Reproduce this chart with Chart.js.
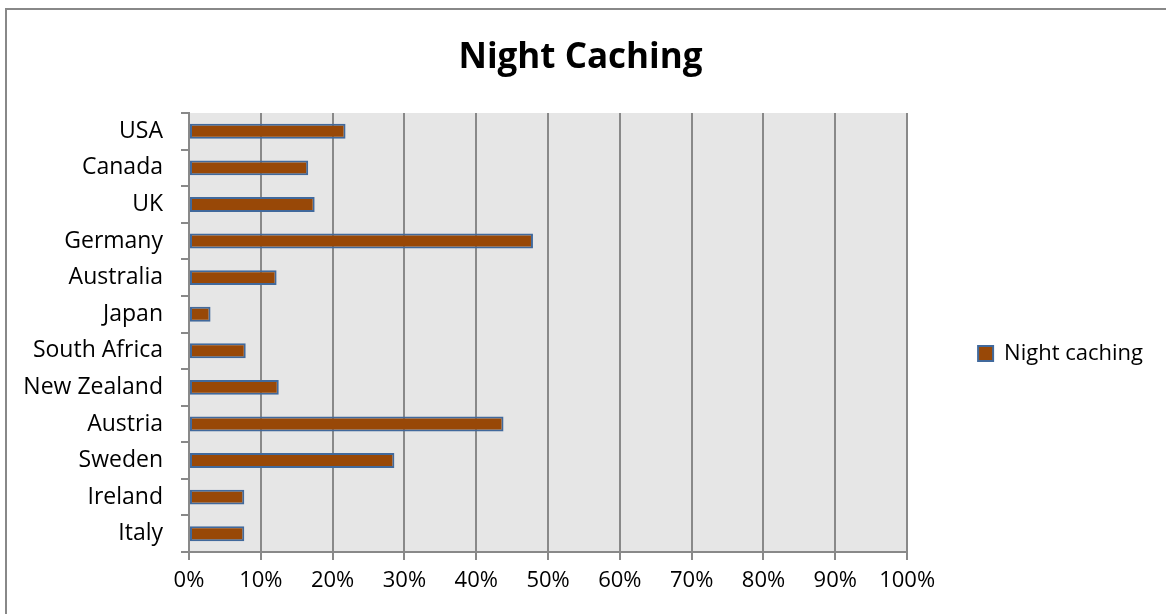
<!DOCTYPE html>
<html>
<head>
<meta charset="utf-8">
<script src="https://cdn.jsdelivr.net/npm/chart.js@4.4.1/dist/chart.umd.min.js"></script>
<style>
  html, body { margin: 0; padding: 0; background: #fff; overflow: hidden; }
  #frame {
    position: absolute; left: 5px; top: 8px; width: 1170px; height: 620px;
    border-left: 2px solid #888; border-top: 2px solid #888;
  }
  #wrap { position: absolute; left: 8px; top: 11px; width: 1145px; height: 603px; }
</style>
</head>
<body>
<div id="frame"></div>
<div id="wrap"><canvas id="chart"></canvas></div>
<script>
// valores (percentual)
const paises = ['USA', 'Canada', 'UK', 'Germany', 'Australia', 'Japan',
                'South Africa', 'New Zealand', 'Austria', 'Sweden', 'Ireland', 'Italy'];
const nightCaching = [21.8, 16.6, 17.5, 47.9, 12.2, 3.0, 7.9, 12.5, 43.8, 28.6, 7.7, 7.7];
const ticksX = [0, 10, 20, 30, 40, 50, 60, 70, 80, 90, 100];

const FONTE = "'Open Sans', Lato, sans-serif";
const CINZA = '#898989';

// fundo cinza só na área de plotagem
const fundoPlot = {
    id: 'fundoPlot',
    beforeDraw(chart) {
        const { ctx, chartArea: a } = chart;
        ctx.save();
        ctx.fillStyle = '#e6e6e6';
        ctx.fillRect(a.left, a.top, a.right - a.left, a.bottom - a.top);
        ctx.restore();
    }
};

new Chart(document.getElementById('chart'), {
    type: 'bar',
    data: {
        labels: paises,
        datasets: [{
            label: 'Night caching',
            data: nightCaching,
            backgroundColor: '#984807',
            borderColor: '#41699c',
            borderWidth: 2,
            borderSkipped: false,
            barPercentage: 0.41,
            categoryPercentage: 1
        }]
    },
    options: {
        indexAxis: 'y',
        responsive: true,
        maintainAspectRatio: false,
        animation: false,
        layout: { padding: 0 },
        plugins: {
            title: {
                display: true,
                text: 'Night Caching',
                color: '#000',
                font: { family: FONTE, size: 35, weight: 'bold' },
                padding: { top: 26, bottom: 34 }
            },
            legend: {
                position: 'right',
                // título vazio só para empurrar o item para baixo
                title: { display: true, text: ' ', font: { size: 10 }, padding: { top: 0, bottom: 70 } },
                labels: {
                    boxWidth: 15,
                    boxHeight: 15,
                    padding: 5,
                    color: '#000',
                    font: { family: FONTE, size: 22 }
                }
            },
            tooltip: { enabled: false }
        },
        scales: {
            x: {
                min: 0,
                max: 100,
                afterBuildTicks(s) { s.ticks = ticksX.map(v => ({ value: v })); },
                ticks: {
                    color: '#000',
                    font: { family: FONTE, size: 22 },
                    padding: 8,
                    callback: v => v + '%'
                },
                grid: { color: CINZA, lineWidth: 2, tickLength: 8 },
                border: { color: CINZA, width: 2 },
                afterFit(s) { s.height = 62; }
            },
            y: {
                ticks: {
                    color: '#000',
                    font: { family: FONTE, size: 23 },
                    padding: 18
                },
                grid: { drawOnChartArea: false, color: CINZA, lineWidth: 2, tickLength: 8 },
                border: { color: CINZA, width: 2 },
                afterFit(s) { s.width = 181; }
            },
            // espaçador entre a área do gráfico e a legenda
            espaco: {
                type: 'linear',
                position: 'right',
                display: true,
                ticks: { display: false },
                grid: { display: false, drawTicks: false },
                border: { display: false },
                afterFit(s) { s.width = 66; }
            }
        }
    },
    plugins: [fundoPlot]
});
</script>
</body>
</html>
